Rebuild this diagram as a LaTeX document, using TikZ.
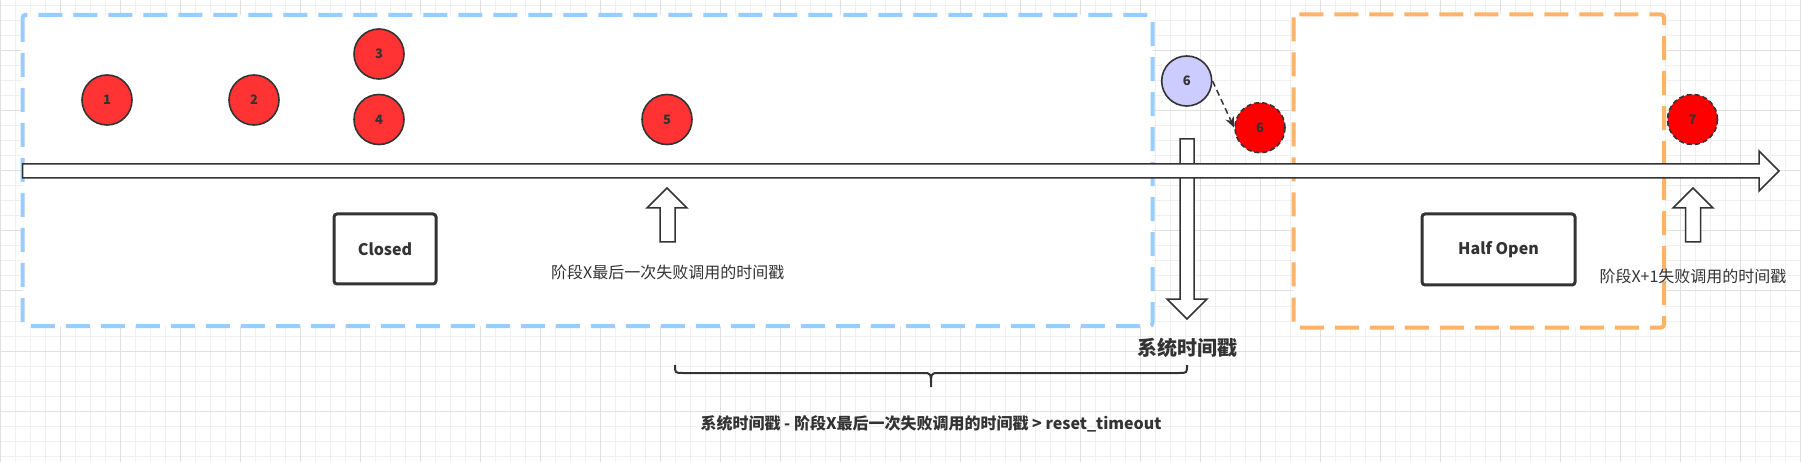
\documentclass[tikz,border=0pt]{standalone}
\usepackage{fontspec}
\setmainfont{Noto Sans CJK SC}
\usetikzlibrary{arrows.meta}
\definecolor{gridminor}{HTML}{F0F0F0}
\definecolor{gridmajor}{HTML}{E0E0E0}
\definecolor{bluedash}{HTML}{99CCFF}
\definecolor{orangedash}{HTML}{FFB366}
\definecolor{ink}{HTML}{333333}
\definecolor{redfill}{HTML}{FF3333}
\definecolor{purered}{HTML}{FF0000}
\definecolor{lavfill}{HTML}{CCCCFF}
\newcommand\myfs[1]{\fontsize{#1}{#1}\selectfont}
\tikzset{
  zonebox/.style={line width=4pt, dash pattern=on 24pt off 11pt, fill=white, rounded corners=3pt},
  ball/.style={circle, minimum size=50pt, inner sep=0pt, draw=ink, line width=1.6pt,
               font=\myfs{13}\bfseries, text=ink},
  redball/.style={ball, fill=redfill},
  dashball/.style={ball, fill=purered, dash pattern=on 5pt off 3pt},
  lavball/.style={ball, fill=lavfill},
  statebox/.style={draw=ink, fill=white, line width=3pt, rounded corners=3pt,
                   font=\myfs{16}\bfseries, text=ink, inner sep=0pt},
  blockarrow/.style={draw=ink, fill=white, line width=1.5pt, line join=miter},
  lbl/.style={font=\myfs{16}, text=ink, inner sep=0pt},
  conn/.style={draw=ink, line width=1.5pt, dash pattern=on 6pt off 4pt,
               -{Stealth[length=11pt,width=9pt]}},
  bracestyle/.style={draw=ink, line width=2pt},
}
\begin{document}
\begin{tikzpicture}[x=1pt,y=-1pt]
\useasboundingbox (0,0) rectangle (1801,462);
\fill[white] (0,0) rectangle (1801,462);
% background grid
\foreach \gx in {0,15,...,1800} \draw[gridminor,line width=1pt] (\gx,0) -- (\gx,462);
\foreach \gy in {6,21,...,460} \draw[gridminor,line width=1pt] (0,\gy) -- (1801,\gy);
\foreach \gx in {0,60,...,1800} \draw[gridmajor,line width=1pt] (\gx,0) -- (\gx,462);
\foreach \gy in {51,111,...,411} \draw[gridmajor,line width=1pt] (0,\gy) -- (1801,\gy);

% zones
\draw[zonebox, draw=bluedash] (22.5,15) rectangle (1152.5,326);
\draw[zonebox, draw=orangedash] (1293.5,14.5) rectangle (1664,327.5);

% system time arrow (down)
\draw[blockarrow] (1180,139) -- (1194,139) -- (1194,299) -- (1207,299) -- (1187,319)
  -- (1167,299) -- (1180,299) -- cycle;

% timeline
\draw[blockarrow] (22.7,164) -- (1759,164) -- (1759,151) -- (1779,171) -- (1759,191)
  -- (1759,178) -- (22.7,178) -- cycle;

% up arrows
\draw[blockarrow] (667,188) -- (687,208) -- (675,208) -- (675,242) -- (660,242)
  -- (660,208) -- (647,208) -- cycle;
\draw[blockarrow] (1693,188) -- (1713,208) -- (1700.5,208) -- (1700.5,242) -- (1685.5,242)
  -- (1685.5,208) -- (1673,208) -- cycle;

% failure calls
\node[redball] (c1) at (107,100) {1};
\node[redball] (c2) at (254,100) {2};
\node[redball] (c3) at (379,54) {3};
\node[redball] (c4) at (379,119.5) {4};
\node[redball] (c5) at (667,119.5) {5};
\node[lavball] (l6) at (1186.7,81) {6};
\node[dashball] (r6) at (1260,127.7) {6};
\node[dashball] (c7) at (1692.5,119.5) {7};
\draw[conn] (l6.east) -- (r6.west);

% states
\node[statebox, minimum width=102pt, minimum height=70pt] (closed) at (385,249) {Closed};
\node[statebox, minimum width=153pt, minimum height=71pt] (halfopen) at (1498.5,249.5) {Half Open};

% labels
\node[lbl] (lastfail) at (667.8,272) {阶段X最后一次失败调用的时间戳};
\node[lbl] (nextfail) at (1693,276) {阶段X+1失败调用的时间戳};
\node[lbl, font=\myfs{20}\bfseries] (systime) at (1187,348) {系统时间戳};
\node[lbl, font=\myfs{16}\bfseries] (cond) at (931,424) {系统时间戳 - 阶段X最后一次失败调用的时间戳 > reset\_timeout};

% brace
\draw[bracestyle] (675,365) .. controls (675,373) .. (683,373) -- (923,373)
  .. controls (931,373) .. (931,387) .. controls (931,373) .. (939,373) -- (1179,373)
  .. controls (1187,373) .. (1187,365);
\end{tikzpicture}
\end{document}
